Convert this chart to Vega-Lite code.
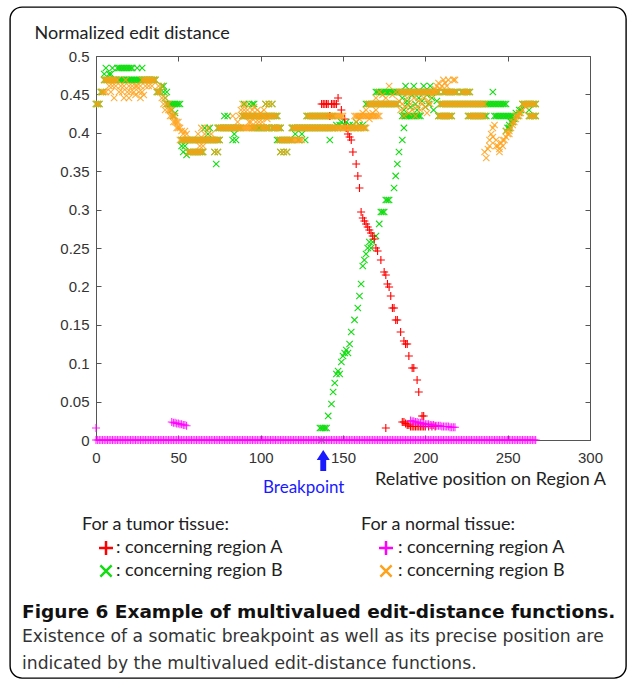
{
"$schema":"https://vega.github.io/schema/vega-lite/v6.json",
"width":616,"height":671,
"autosize":"none",
"padding":{"left":10,"top":7,"right":1,"bottom":3},
"background":"white",
"config":{"view":{"stroke":"#000","strokeWidth":1.4,"cornerRadius":12,"fill":"white"}},
"title":{"text":"Figure 6 Example of multivalued edit-distance functions.","subtitle":["Existence of a somatic breakpoint as well as its precise position are","indicated by the multivalued edit-distance functions."],"orient":"bottom","anchor":"start","frame":"group","offset":-75,"dx":12,"font":"DejaVu Sans","fontSize":18.5,"fontWeight":"bold","color":"#111","subtitleFont":"DejaVu Sans","subtitleFontSize":17.2,"subtitleColor":"#333","subtitleLineHeight":27,"subtitlePadding":6},
"datasets":{
"t":[
{"x":0,"y":0.4375,"s":"b"},{"x":1,"y":0.4375,"s":"b"},{"x":2,"y":0.4375,"s":"b"},{"x":3,"y":0.4531,"s":"b"},{"x":4,"y":0.4531,"s":"b"},{"x":5,"y":0.4688,"s":"b"},{"x":6,"y":0.4688,"s":"b"},{"x":7,"y":0.4688,"s":"b"},{"x":8,"y":0.4688,"s":"b"},{"x":9,"y":0.4688,"s":"b"},{"x":10,"y":0.4688,"s":"b"},{"x":11,"y":0.4688,"s":"b"},{"x":12,"y":0.4688,"s":"b"},
{"x":13,"y":0.4844,"s":"b"},{"x":14,"y":0.4844,"s":"b"},{"x":15,"y":0.4844,"s":"b"},{"x":16,"y":0.4844,"s":"b"},{"x":17,"y":0.4844,"s":"b"},{"x":18,"y":0.4844,"s":"b"},{"x":19,"y":0.4844,"s":"b"},{"x":20,"y":0.4844,"s":"b"},{"x":21,"y":0.4844,"s":"b"},{"x":22,"y":0.4844,"s":"b"},
{"x":23,"y":0.4688,"s":"b"},{"x":24,"y":0.4688,"s":"b"},{"x":25,"y":0.4688,"s":"b"},{"x":26,"y":0.4688,"s":"b"},{"x":27,"y":0.4688,"s":"b"},{"x":28,"y":0.4688,"s":"b"},{"x":29,"y":0.4688,"s":"b"},{"x":30,"y":0.4688,"s":"b"},{"x":31,"y":0.4688,"s":"b"},{"x":32,"y":0.4688,"s":"b"},{"x":33,"y":0.4688,"s":"b"},{"x":34,"y":0.4688,"s":"b"},{"x":35,"y":0.4688,"s":"b"},{"x":36,"y":0.4688,"s":"b"},
{"x":37,"y":0.4531,"s":"b"},{"x":38,"y":0.4531,"s":"b"},{"x":39,"y":0.4531,"s":"b"},{"x":40,"y":0.4609,"s":"b"},{"x":41,"y":0.4531,"s":"b"},{"x":42,"y":0.4453,"s":"b"},
{"x":43,"y":0.4375,"s":"b"},{"x":44,"y":0.4375,"s":"b"},{"x":45,"y":0.4375,"s":"b"},{"x":46,"y":0.4375,"s":"b"},{"x":47,"y":0.4375,"s":"b"},{"x":48,"y":0.4375,"s":"b"},{"x":49,"y":0.4375,"s":"b"},{"x":50,"y":0.4375,"s":"b"},{"x":51,"y":0.4375,"s":"b"},
{"x":52,"y":0.3906,"s":"b"},{"x":53,"y":0.3906,"s":"b"},{"x":54,"y":0.3906,"s":"b"},{"x":55,"y":0.3906,"s":"b"},{"x":56,"y":0.3906,"s":"b"},{"x":57,"y":0.3906,"s":"b"},{"x":58,"y":0.3906,"s":"b"},{"x":59,"y":0.3906,"s":"b"},{"x":60,"y":0.3906,"s":"b"},{"x":61,"y":0.3906,"s":"b"},{"x":62,"y":0.3906,"s":"b"},{"x":63,"y":0.3906,"s":"b"},{"x":64,"y":0.3906,"s":"b"},{"x":65,"y":0.3906,"s":"b"},{"x":66,"y":0.3906,"s":"b"},{"x":67,"y":0.3906,"s":"b"},{"x":68,"y":0.3906,"s":"b"},{"x":69,"y":0.3906,"s":"b"},{"x":70,"y":0.3906,"s":"b"},{"x":71,"y":0.3906,"s":"b"},{"x":72,"y":0.3906,"s":"b"},{"x":73,"y":0.3906,"s":"b"},
{"x":74,"y":0.4063,"s":"b"},{"x":75,"y":0.4063,"s":"b"},{"x":76,"y":0.4063,"s":"b"},{"x":77,"y":0.4063,"s":"b"},{"x":78,"y":0.4063,"s":"b"},{"x":79,"y":0.4063,"s":"b"},{"x":80,"y":0.4063,"s":"b"},{"x":81,"y":0.4063,"s":"b"},{"x":82,"y":0.4063,"s":"b"},{"x":83,"y":0.4063,"s":"b"},{"x":84,"y":0.4063,"s":"b"},{"x":85,"y":0.4063,"s":"b"},{"x":86,"y":0.4063,"s":"b"},{"x":87,"y":0.4063,"s":"b"},{"x":88,"y":0.4063,"s":"b"},
{"x":89,"y":0.4219,"s":"b"},{"x":90,"y":0.4219,"s":"b"},{"x":91,"y":0.4219,"s":"b"},{"x":92,"y":0.4219,"s":"b"},{"x":93,"y":0.4219,"s":"b"},{"x":94,"y":0.4219,"s":"b"},{"x":95,"y":0.4219,"s":"b"},{"x":96,"y":0.4219,"s":"b"},{"x":97,"y":0.4219,"s":"b"},{"x":98,"y":0.4219,"s":"b"},{"x":99,"y":0.4219,"s":"b"},{"x":100,"y":0.4219,"s":"b"},{"x":101,"y":0.4219,"s":"b"},{"x":102,"y":0.4219,"s":"b"},{"x":103,"y":0.4219,"s":"b"},{"x":104,"y":0.4219,"s":"b"},{"x":105,"y":0.4219,"s":"b"},{"x":106,"y":0.4219,"s":"b"},{"x":107,"y":0.4219,"s":"b"},{"x":108,"y":0.4219,"s":"b"},{"x":109,"y":0.4219,"s":"b"},{"x":110,"y":0.4219,"s":"b"},
{"x":111,"y":0.3906,"s":"b"},{"x":112,"y":0.3906,"s":"b"},{"x":113,"y":0.3906,"s":"b"},{"x":114,"y":0.3906,"s":"b"},{"x":115,"y":0.3906,"s":"b"},{"x":116,"y":0.3906,"s":"b"},{"x":117,"y":0.3906,"s":"b"},{"x":118,"y":0.3906,"s":"b"},
{"x":119,"y":0.4063,"s":"b"},{"x":120,"y":0.4063,"s":"b"},{"x":121,"y":0.4063,"s":"b"},{"x":122,"y":0.4063,"s":"b"},{"x":123,"y":0.4063,"s":"b"},{"x":124,"y":0.4063,"s":"b"},{"x":125,"y":0.4063,"s":"b"},{"x":126,"y":0.4063,"s":"b"},{"x":127,"y":0.4063,"s":"b"},{"x":128,"y":0.4063,"s":"b"},{"x":129,"y":0.4063,"s":"b"},{"x":130,"y":0.4063,"s":"b"},{"x":131,"y":0.4063,"s":"b"},{"x":132,"y":0.4063,"s":"b"},{"x":133,"y":0.4063,"s":"b"},{"x":134,"y":0.4063,"s":"b"},{"x":135,"y":0.4063,"s":"b"},{"x":136,"y":0.4063,"s":"b"},
{"x":137,"y":0.4219,"s":"b"},{"x":138,"y":0.4219,"s":"b"},{"x":139,"y":0.4219,"s":"b"},{"x":140,"y":0.4219,"s":"b"},{"x":141,"y":0.4219,"s":"b"},{"x":142,"y":0.4219,"s":"b"},{"x":143,"y":0.4219,"s":"b"},{"x":144,"y":0.4219,"s":"b"},
{"x":145,"y":0.4063,"s":"b"},{"x":146,"y":0.4102,"s":"b"},{"x":147,"y":0.4063,"s":"b"},{"x":148,"y":0.4102,"s":"b"},{"x":149,"y":0.4141,"s":"b"},{"x":150,"y":0.4063,"s":"b"},{"x":151,"y":0.4102,"s":"b"},{"x":152,"y":0.4141,"s":"b"},{"x":153,"y":0.4063,"s":"b"},{"x":154,"y":0.4102,"s":"b"},{"x":155,"y":0.4063,"s":"b"},{"x":156,"y":0.4102,"s":"b"},{"x":157,"y":0.4063,"s":"b"},{"x":158,"y":0.4141,"s":"b"},{"x":159,"y":0.4063,"s":"b"},{"x":160,"y":0.4102,"s":"b"},{"x":161,"y":0.4063,"s":"b"},{"x":162,"y":0.4102,"s":"b"},{"x":163,"y":0.4063,"s":"b"},
{"x":164,"y":0.4375,"s":"b"},{"x":165,"y":0.4375,"s":"b"},{"x":166,"y":0.4375,"s":"b"},{"x":167,"y":0.4375,"s":"b"},{"x":168,"y":0.4375,"s":"b"},{"x":169,"y":0.4375,"s":"b"},{"x":170,"y":0.4375,"s":"b"},{"x":171,"y":0.4375,"s":"b"},{"x":172,"y":0.4375,"s":"b"},{"x":173,"y":0.4375,"s":"b"},{"x":174,"y":0.4375,"s":"b"},{"x":175,"y":0.4375,"s":"b"},{"x":176,"y":0.4375,"s":"b"},{"x":177,"y":0.4375,"s":"b"},{"x":178,"y":0.4375,"s":"b"},{"x":179,"y":0.4375,"s":"b"},{"x":180,"y":0.4375,"s":"b"},{"x":181,"y":0.4375,"s":"b"},{"x":182,"y":0.4375,"s":"b"},{"x":183,"y":0.4375,"s":"b"},
{"x":184,"y":0.4531,"s":"b"},{"x":185,"y":0.4531,"s":"b"},{"x":186,"y":0.4531,"s":"b"},{"x":187,"y":0.4531,"s":"b"},{"x":188,"y":0.4531,"s":"b"},{"x":189,"y":0.4531,"s":"b"},{"x":190,"y":0.4531,"s":"b"},{"x":191,"y":0.4531,"s":"b"},{"x":192,"y":0.4531,"s":"b"},{"x":193,"y":0.4531,"s":"b"},{"x":194,"y":0.4531,"s":"b"},{"x":195,"y":0.4531,"s":"b"},{"x":196,"y":0.4531,"s":"b"},{"x":197,"y":0.4531,"s":"b"},{"x":198,"y":0.4531,"s":"b"},{"x":199,"y":0.4531,"s":"b"},{"x":200,"y":0.4531,"s":"b"},{"x":201,"y":0.4531,"s":"b"},{"x":202,"y":0.4531,"s":"b"},{"x":203,"y":0.4531,"s":"b"},{"x":204,"y":0.4531,"s":"b"},{"x":205,"y":0.4531,"s":"b"},{"x":206,"y":0.4531,"s":"b"},{"x":207,"y":0.4531,"s":"b"},{"x":208,"y":0.4531,"s":"b"},
{"x":209,"y":0.4375,"s":"b"},{"x":210,"y":0.4375,"s":"b"},{"x":211,"y":0.4375,"s":"b"},{"x":212,"y":0.4375,"s":"b"},{"x":213,"y":0.4375,"s":"b"},{"x":214,"y":0.4375,"s":"b"},{"x":215,"y":0.4375,"s":"b"},{"x":216,"y":0.4375,"s":"b"},{"x":217,"y":0.4375,"s":"b"},{"x":218,"y":0.4375,"s":"b"},{"x":219,"y":0.4375,"s":"b"},{"x":220,"y":0.4375,"s":"b"},{"x":221,"y":0.4375,"s":"b"},{"x":222,"y":0.4375,"s":"b"},{"x":223,"y":0.4375,"s":"b"},{"x":224,"y":0.4375,"s":"b"},{"x":225,"y":0.4375,"s":"b"},{"x":226,"y":0.4375,"s":"b"},{"x":227,"y":0.4375,"s":"b"},{"x":228,"y":0.4375,"s":"b"},{"x":229,"y":0.4375,"s":"b"},{"x":230,"y":0.4375,"s":"b"},{"x":231,"y":0.4375,"s":"b"},{"x":232,"y":0.4375,"s":"b"},{"x":233,"y":0.4375,"s":"b"},{"x":234,"y":0.4375,"s":"b"},{"x":235,"y":0.4375,"s":"b"},{"x":236,"y":0.4375,"s":"b"},{"x":237,"y":0.4375,"s":"b"},{"x":238,"y":0.4375,"s":"b"},{"x":239,"y":0.4375,"s":"b"},{"x":240,"y":0.4375,"s":"b"},{"x":241,"y":0.4375,"s":"b"},{"x":242,"y":0.4375,"s":"b"},{"x":243,"y":0.4375,"s":"b"},{"x":244,"y":0.4375,"s":"b"},{"x":245,"y":0.4375,"s":"b"},{"x":246,"y":0.4375,"s":"b"},{"x":247,"y":0.4375,"s":"b"},{"x":248,"y":0.4375,"s":"b"},{"x":249,"y":0.4375,"s":"b"},
{"x":250,"y":0.4063,"s":"b"},{"x":251,"y":0.4102,"s":"b"},{"x":252,"y":0.4141,"s":"b"},{"x":253,"y":0.4141,"s":"b"},{"x":254,"y":0.418,"s":"b"},{"x":255,"y":0.4219,"s":"b"},{"x":256,"y":0.4219,"s":"b"},{"x":257,"y":0.4258,"s":"b"},{"x":258,"y":0.4297,"s":"b"},
{"x":259,"y":0.4375,"s":"b"},{"x":260,"y":0.4375,"s":"b"},{"x":261,"y":0.4375,"s":"b"},{"x":262,"y":0.4375,"s":"b"},{"x":263,"y":0.4375,"s":"b"},{"x":264,"y":0.4375,"s":"b"},{"x":265,"y":0.4375,"s":"b"},{"x":266,"y":0.4375,"s":"b"},{"x":267,"y":0.4375,"s":"b"},
{"x":5,"y":0.4766,"s":"b"},{"x":6,"y":0.4844,"s":"b"},{"x":8,"y":0.4766,"s":"b"},{"x":9,"y":0.4766,"s":"b"},{"x":10,"y":0.4844,"s":"b"},
{"x":14,"y":0.4688,"s":"b"},{"x":15,"y":0.4688,"s":"b"},{"x":16,"y":0.4688,"s":"b"},{"x":17,"y":0.4688,"s":"b"},{"x":18,"y":0.4688,"s":"b"},{"x":19,"y":0.4688,"s":"b"},{"x":20,"y":0.4688,"s":"b"},{"x":21,"y":0.4688,"s":"b"},{"x":22,"y":0.4688,"s":"b"},
{"x":25,"y":0.4844,"s":"b"},{"x":28,"y":0.4844,"s":"b"},
{"x":41,"y":0.4609,"s":"b"},{"x":43,"y":0.4531,"s":"b"},{"x":46,"y":0.4297,"s":"b"},{"x":47,"y":0.4219,"s":"b"},{"x":48,"y":0.4258,"s":"b"},
{"x":52,"y":0.3828,"s":"b"},{"x":53,"y":0.375,"s":"b"},{"x":54,"y":0.3828,"s":"b"},{"x":55,"y":0.3711,"s":"b"},
{"x":56,"y":0.375,"s":"b"},{"x":57,"y":0.375,"s":"b"},{"x":58,"y":0.375,"s":"b"},{"x":59,"y":0.375,"s":"b"},{"x":60,"y":0.375,"s":"b"},{"x":61,"y":0.375,"s":"b"},{"x":62,"y":0.375,"s":"b"},{"x":63,"y":0.375,"s":"b"},{"x":64,"y":0.375,"s":"b"},{"x":65,"y":0.375,"s":"b"},
{"x":66,"y":0.4063,"s":"b"},{"x":68,"y":0.3984,"s":"b"},{"x":69,"y":0.4063,"s":"b"},
{"x":72,"y":0.375,"s":"b"},{"x":73,"y":0.3594,"s":"b"},{"x":74,"y":0.375,"s":"b"},{"x":74,"y":0.3906,"s":"b"},{"x":75,"y":0.3906,"s":"b"},
{"x":78,"y":0.4219,"s":"b"},{"x":80,"y":0.4219,"s":"b"},{"x":83,"y":0.3906,"s":"b"},{"x":84,"y":0.3984,"s":"b"},{"x":85,"y":0.3906,"s":"b"},
{"x":90,"y":0.4375,"s":"b"},{"x":93,"y":0.4375,"s":"b"},{"x":95,"y":0.4375,"s":"b"},{"x":96,"y":0.4375,"s":"b"},
{"x":95,"y":0.4063,"s":"b"},{"x":96,"y":0.4063,"s":"b"},{"x":97,"y":0.4063,"s":"b"},{"x":98,"y":0.4063,"s":"b"},{"x":99,"y":0.4063,"s":"b"},{"x":100,"y":0.4063,"s":"b"},{"x":101,"y":0.4063,"s":"b"},{"x":102,"y":0.4063,"s":"b"},{"x":103,"y":0.4063,"s":"b"},{"x":104,"y":0.4063,"s":"b"},{"x":105,"y":0.4063,"s":"b"},
{"x":103,"y":0.4375,"s":"b"},{"x":105,"y":0.4375,"s":"b"},{"x":107,"y":0.4375,"s":"b"},
{"x":107,"y":0.4063,"s":"b"},{"x":108,"y":0.4063,"s":"b"},{"x":109,"y":0.4063,"s":"b"},{"x":110,"y":0.4063,"s":"b"},{"x":111,"y":0.4063,"s":"b"},{"x":112,"y":0.4063,"s":"b"},
{"x":110,"y":0.3906,"s":"b"},{"x":112,"y":0.375,"s":"b"},{"x":114,"y":0.375,"s":"b"},{"x":116,"y":0.375,"s":"b"},
{"x":119,"y":0.3906,"s":"b"},{"x":121,"y":0.3984,"s":"b"},{"x":123,"y":0.3906,"s":"b"},{"x":125,"y":0.3984,"s":"b"},{"x":127,"y":0.3906,"s":"b"},
{"x":128,"y":0.4219,"s":"b"},{"x":129,"y":0.4219,"s":"b"},{"x":130,"y":0.4219,"s":"b"},{"x":131,"y":0.4219,"s":"b"},{"x":132,"y":0.4219,"s":"b"},{"x":133,"y":0.4219,"s":"b"},{"x":134,"y":0.4219,"s":"b"},{"x":135,"y":0.4219,"s":"b"},{"x":136,"y":0.4219,"s":"b"},
{"x":137,"y":0.4063,"s":"b"},{"x":138,"y":0.4063,"s":"b"},{"x":139,"y":0.4063,"s":"b"},{"x":140,"y":0.4063,"s":"b"},{"x":141,"y":0.4063,"s":"b"},{"x":142,"y":0.4063,"s":"b"},{"x":143,"y":0.4063,"s":"b"},{"x":144,"y":0.4063,"s":"b"},
{"x":142,"y":0.3906,"s":"b"},
{"x":170,"y":0.4531,"s":"b"},{"x":171,"y":0.4531,"s":"b"},{"x":172,"y":0.4531,"s":"b"},{"x":173,"y":0.4531,"s":"b"},{"x":174,"y":0.4531,"s":"b"},{"x":175,"y":0.4531,"s":"b"},{"x":176,"y":0.4531,"s":"b"},{"x":177,"y":0.4531,"s":"b"},{"x":178,"y":0.4531,"s":"b"},{"x":179,"y":0.4531,"s":"b"},{"x":180,"y":0.4531,"s":"b"},{"x":181,"y":0.4531,"s":"b"},{"x":182,"y":0.4531,"s":"b"},{"x":183,"y":0.4531,"s":"b"},
{"x":186,"y":0.4219,"s":"b"},{"x":187,"y":0.4219,"s":"b"},{"x":188,"y":0.4219,"s":"b"},{"x":189,"y":0.4219,"s":"b"},{"x":190,"y":0.4219,"s":"b"},{"x":191,"y":0.4219,"s":"b"},{"x":192,"y":0.4219,"s":"b"},{"x":193,"y":0.4219,"s":"b"},{"x":194,"y":0.4219,"s":"b"},{"x":195,"y":0.4219,"s":"b"},{"x":196,"y":0.4219,"s":"b"},{"x":197,"y":0.4219,"s":"b"},
{"x":186,"y":0.4453,"s":"b"},{"x":187,"y":0.4297,"s":"b"},{"x":188,"y":0.4609,"s":"b"},{"x":189,"y":0.4414,"s":"b"},{"x":190,"y":0.4531,"s":"b"},{"x":191,"y":0.4336,"s":"b"},{"x":192,"y":0.4492,"s":"b"},{"x":193,"y":0.4609,"s":"b"},{"x":194,"y":0.4375,"s":"b"},{"x":195,"y":0.4297,"s":"b"},{"x":196,"y":0.4453,"s":"b"},{"x":197,"y":0.4531,"s":"b"},{"x":198,"y":0.4414,"s":"b"},{"x":199,"y":0.4609,"s":"b"},{"x":200,"y":0.4336,"s":"b"},{"x":201,"y":0.4492,"s":"b"},{"x":202,"y":0.4375,"s":"b"},{"x":203,"y":0.4609,"s":"b"},{"x":204,"y":0.4453,"s":"b"},{"x":205,"y":0.4297,"s":"b"},{"x":206,"y":0.4531,"s":"b"},{"x":207,"y":0.4414,"s":"b"},
{"x":208,"y":0.4219,"s":"b"},{"x":209,"y":0.4219,"s":"b"},{"x":210,"y":0.4219,"s":"b"},{"x":211,"y":0.4219,"s":"b"},{"x":212,"y":0.4219,"s":"b"},{"x":213,"y":0.4219,"s":"b"},{"x":214,"y":0.4219,"s":"b"},{"x":215,"y":0.4219,"s":"b"},{"x":216,"y":0.4219,"s":"b"},
{"x":226,"y":0.4219,"s":"b"},{"x":227,"y":0.4219,"s":"b"},{"x":228,"y":0.4219,"s":"b"},{"x":229,"y":0.4219,"s":"b"},{"x":230,"y":0.4219,"s":"b"},{"x":231,"y":0.4219,"s":"b"},{"x":232,"y":0.4219,"s":"b"},{"x":233,"y":0.4219,"s":"b"},{"x":234,"y":0.4219,"s":"b"},{"x":235,"y":0.4219,"s":"b"},{"x":236,"y":0.4219,"s":"b"},{"x":237,"y":0.4219,"s":"b"},
{"x":211,"y":0.4531,"s":"b"},{"x":212,"y":0.4531,"s":"b"},{"x":213,"y":0.4531,"s":"b"},{"x":214,"y":0.4531,"s":"b"},{"x":215,"y":0.4531,"s":"b"},{"x":216,"y":0.4531,"s":"b"},{"x":217,"y":0.4531,"s":"b"},{"x":218,"y":0.4531,"s":"b"},{"x":219,"y":0.4531,"s":"b"},
{"x":222,"y":0.4531,"s":"b"},{"x":223,"y":0.4531,"s":"b"},{"x":224,"y":0.4531,"s":"b"},{"x":225,"y":0.4531,"s":"b"},{"x":226,"y":0.4531,"s":"b"},{"x":227,"y":0.4531,"s":"b"},
{"x":241,"y":0.4531,"s":"b"},
{"x":242,"y":0.4219,"s":"b"},{"x":243,"y":0.4219,"s":"b"},{"x":244,"y":0.4219,"s":"b"},{"x":245,"y":0.4219,"s":"b"},{"x":246,"y":0.4219,"s":"b"},{"x":247,"y":0.4219,"s":"b"},{"x":248,"y":0.4219,"s":"b"},{"x":249,"y":0.4219,"s":"b"},{"x":250,"y":0.4219,"s":"b"},{"x":251,"y":0.4219,"s":"b"},{"x":252,"y":0.4219,"s":"b"},{"x":253,"y":0.4219,"s":"b"},
{"x":249,"y":0.4023,"s":"b"},{"x":251,"y":0.4063,"s":"b"},{"x":253,"y":0.418,"s":"b"},{"x":255,"y":0.4258,"s":"b"},{"x":257,"y":0.4297,"s":"b"},{"x":263,"y":0.4297,"s":"b"},
{"x":263,"y":0.4219,"s":"b"},{"x":264,"y":0.4219,"s":"b"},{"x":265,"y":0.4219,"s":"b"},{"x":266,"y":0.4219,"s":"b"},{"x":267,"y":0.4219,"s":"b"},
{"x":137,"y":0,"s":"b"},{"x":136,"y":0.0156,"s":"b"},{"x":137,"y":0.0156,"s":"b"},{"x":138,"y":0.0156,"s":"b"},{"x":139,"y":0.0156,"s":"b"},{"x":140,"y":0.0156,"s":"b"},{"x":141,"y":0.0313,"s":"b"},{"x":143,"y":0.0469,"s":"b"},{"x":144,"y":0.0625,"s":"b"},{"x":145,"y":0.0742,"s":"b"},{"x":146,"y":0.0859,"s":"b"},{"x":147,"y":0.0898,"s":"b"},{"x":148,"y":0.0859,"s":"b"},{"x":149,"y":0.1016,"s":"b"},{"x":150,"y":0.1094,"s":"b"},{"x":151,"y":0.1133,"s":"b"},{"x":152,"y":0.1172,"s":"b"},{"x":153,"y":0.1133,"s":"b"},{"x":154,"y":0.125,"s":"b"},{"x":155,"y":0.1406,"s":"b"},{"x":157,"y":0.1563,"s":"b"},{"x":159,"y":0.1719,"s":"b"},{"x":160,"y":0.1875,"s":"b"},{"x":161,"y":0.2031,"s":"b"},{"x":162,"y":0.2266,"s":"b"},{"x":163,"y":0.2344,"s":"b"},{"x":164,"y":0.2422,"s":"b"},{"x":165,"y":0.25,"s":"b"},{"x":166,"y":0.2578,"s":"b"},{"x":167,"y":0.25,"s":"b"},{"x":168,"y":0.2578,"s":"b"},{"x":170,"y":0.2656,"s":"b"},{"x":172,"y":0.2813,"s":"b"},{"x":173,"y":0.2969,"s":"b"},{"x":174,"y":0.2969,"s":"b"},{"x":175,"y":0.2969,"s":"b"},{"x":176,"y":0.3125,"s":"b"},{"x":177,"y":0.3125,"s":"b"},{"x":178,"y":0.3125,"s":"b"},{"x":181,"y":0.3281,"s":"b"},{"x":182,"y":0.3438,"s":"b"},{"x":183,"y":0.3594,"s":"b"},{"x":184,"y":0.375,"s":"b"},{"x":186,"y":0.3906,"s":"b"},{"x":187,"y":0.4063,"s":"b"},{"x":188,"y":0.4219,"s":"b"},{"x":189,"y":0.4375,"s":"b"},
{"x":137,"y":0.4375,"s":"a"},{"x":138,"y":0.4375,"s":"a"},{"x":139,"y":0.4375,"s":"a"},{"x":140,"y":0.4375,"s":"a"},{"x":141,"y":0.4375,"s":"a"},{"x":143,"y":0.4375,"s":"a"},{"x":144,"y":0.4375,"s":"a"},{"x":145,"y":0.4375,"s":"a"},{"x":146,"y":0.4375,"s":"a"},{"x":147,"y":0.4453,"s":"a"},{"x":142,"y":0.4219,"s":"a"},{"x":149,"y":0.4297,"s":"a"},{"x":151,"y":0.418,"s":"a"},{"x":152,"y":0.4063,"s":"a"},{"x":153,"y":0.3984,"s":"a"},{"x":154,"y":0.3945,"s":"a"},{"x":155,"y":0.3906,"s":"a"},{"x":156,"y":0.375,"s":"a"},{"x":158,"y":0.3594,"s":"a"},{"x":159,"y":0.3438,"s":"a"},{"x":160,"y":0.3281,"s":"a"},{"x":161,"y":0.2969,"s":"a"},{"x":162,"y":0.2891,"s":"a"},{"x":163,"y":0.2852,"s":"a"},{"x":164,"y":0.2813,"s":"a"},{"x":165,"y":0.2773,"s":"a"},{"x":166,"y":0.2734,"s":"a"},{"x":167,"y":0.2695,"s":"a"},{"x":168,"y":0.2656,"s":"a"},{"x":169,"y":0.2617,"s":"a"},{"x":170,"y":0.25,"s":"a"},{"x":171,"y":0.2461,"s":"a"},{"x":173,"y":0.2344,"s":"a"},{"x":175,"y":0.2188,"s":"a"},{"x":176,"y":0.2148,"s":"a"},{"x":177,"y":0.2031,"s":"a"},{"x":178,"y":0.1992,"s":"a"},{"x":179,"y":0.1875,"s":"a"},{"x":180,"y":0.1719,"s":"a"},{"x":181,"y":0.1719,"s":"a"},{"x":182,"y":0.1563,"s":"a"},{"x":183,"y":0.1563,"s":"a"},{"x":185,"y":0.1406,"s":"a"},{"x":187,"y":0.1289,"s":"a"},{"x":188,"y":0.125,"s":"a"},{"x":189,"y":0.125,"s":"a"},{"x":190,"y":0.1094,"s":"a"},{"x":192,"y":0.0938,"s":"a"},{"x":193,"y":0.0938,"s":"a"},{"x":195,"y":0.0781,"s":"a"},{"x":196,"y":0.0625,"s":"a"},{"x":198,"y":0.0313,"s":"a"},{"x":199,"y":0.0313,"s":"a"},{"x":176,"y":0.0156,"s":"a"},{"x":186,"y":0.0234,"s":"a"},{"x":187,"y":0.0234,"s":"a"},{"x":188,"y":0.0215,"s":"a"},{"x":189,"y":0.0195,"s":"a"},{"x":190,"y":0.0195,"s":"a"},{"x":191,"y":0.0176,"s":"a"},{"x":192,"y":0.0176,"s":"a"},{"x":193,"y":0.0176,"s":"a"},{"x":194,"y":0.0176,"s":"a"},{"x":195,"y":0.0176,"s":"a"},{"x":196,"y":0.0176,"s":"a"},{"x":197,"y":0.0176,"s":"a"},{"x":198,"y":0.0176,"s":"a"},{"x":199,"y":0.0176,"s":"a"},{"x":200,"y":0.0176,"s":"a"},{"x":202,"y":0.0176,"s":"a"},{"x":204,"y":0.0176,"s":"a"},{"x":206,"y":0.0176,"s":"a"}
],
"n":[
{"x":0,"y":0,"s":"c"},{"x":1,"y":0,"s":"c"},{"x":2,"y":0,"s":"c"},{"x":3,"y":0,"s":"c"},{"x":4,"y":0,"s":"c"},{"x":5,"y":0,"s":"c"},{"x":6,"y":0,"s":"c"},{"x":7,"y":0,"s":"c"},{"x":8,"y":0,"s":"c"},{"x":9,"y":0,"s":"c"},{"x":10,"y":0,"s":"c"},{"x":11,"y":0,"s":"c"},{"x":12,"y":0,"s":"c"},{"x":13,"y":0,"s":"c"},{"x":14,"y":0,"s":"c"},{"x":15,"y":0,"s":"c"},{"x":16,"y":0,"s":"c"},{"x":17,"y":0,"s":"c"},{"x":18,"y":0,"s":"c"},{"x":19,"y":0,"s":"c"},{"x":20,"y":0,"s":"c"},{"x":21,"y":0,"s":"c"},{"x":22,"y":0,"s":"c"},{"x":23,"y":0,"s":"c"},{"x":24,"y":0,"s":"c"},{"x":25,"y":0,"s":"c"},{"x":26,"y":0,"s":"c"},{"x":27,"y":0,"s":"c"},{"x":28,"y":0,"s":"c"},{"x":29,"y":0,"s":"c"},{"x":30,"y":0,"s":"c"},{"x":31,"y":0,"s":"c"},{"x":32,"y":0,"s":"c"},{"x":33,"y":0,"s":"c"},{"x":34,"y":0,"s":"c"},{"x":35,"y":0,"s":"c"},{"x":36,"y":0,"s":"c"},{"x":37,"y":0,"s":"c"},{"x":38,"y":0,"s":"c"},{"x":39,"y":0,"s":"c"},{"x":40,"y":0,"s":"c"},{"x":41,"y":0,"s":"c"},{"x":42,"y":0,"s":"c"},{"x":43,"y":0,"s":"c"},{"x":44,"y":0,"s":"c"},{"x":45,"y":0,"s":"c"},{"x":46,"y":0,"s":"c"},{"x":47,"y":0,"s":"c"},{"x":48,"y":0,"s":"c"},{"x":49,"y":0,"s":"c"},{"x":50,"y":0,"s":"c"},{"x":51,"y":0,"s":"c"},{"x":52,"y":0,"s":"c"},{"x":53,"y":0,"s":"c"},{"x":54,"y":0,"s":"c"},{"x":55,"y":0,"s":"c"},{"x":56,"y":0,"s":"c"},{"x":57,"y":0,"s":"c"},{"x":58,"y":0,"s":"c"},{"x":59,"y":0,"s":"c"},{"x":60,"y":0,"s":"c"},{"x":61,"y":0,"s":"c"},{"x":62,"y":0,"s":"c"},{"x":63,"y":0,"s":"c"},{"x":64,"y":0,"s":"c"},{"x":65,"y":0,"s":"c"},{"x":66,"y":0,"s":"c"},{"x":67,"y":0,"s":"c"},{"x":68,"y":0,"s":"c"},{"x":69,"y":0,"s":"c"},{"x":70,"y":0,"s":"c"},{"x":71,"y":0,"s":"c"},{"x":72,"y":0,"s":"c"},{"x":73,"y":0,"s":"c"},{"x":74,"y":0,"s":"c"},{"x":75,"y":0,"s":"c"},{"x":76,"y":0,"s":"c"},{"x":77,"y":0,"s":"c"},{"x":78,"y":0,"s":"c"},{"x":79,"y":0,"s":"c"},{"x":80,"y":0,"s":"c"},{"x":81,"y":0,"s":"c"},{"x":82,"y":0,"s":"c"},{"x":83,"y":0,"s":"c"},{"x":84,"y":0,"s":"c"},{"x":85,"y":0,"s":"c"},{"x":86,"y":0,"s":"c"},{"x":87,"y":0,"s":"c"},{"x":88,"y":0,"s":"c"},{"x":89,"y":0,"s":"c"},{"x":90,"y":0,"s":"c"},{"x":91,"y":0,"s":"c"},{"x":92,"y":0,"s":"c"},{"x":93,"y":0,"s":"c"},{"x":94,"y":0,"s":"c"},{"x":95,"y":0,"s":"c"},{"x":96,"y":0,"s":"c"},{"x":97,"y":0,"s":"c"},{"x":98,"y":0,"s":"c"},{"x":99,"y":0,"s":"c"},{"x":100,"y":0,"s":"c"},{"x":101,"y":0,"s":"c"},{"x":102,"y":0,"s":"c"},{"x":103,"y":0,"s":"c"},{"x":104,"y":0,"s":"c"},{"x":105,"y":0,"s":"c"},{"x":106,"y":0,"s":"c"},{"x":107,"y":0,"s":"c"},{"x":108,"y":0,"s":"c"},{"x":109,"y":0,"s":"c"},{"x":110,"y":0,"s":"c"},{"x":111,"y":0,"s":"c"},{"x":112,"y":0,"s":"c"},{"x":113,"y":0,"s":"c"},{"x":114,"y":0,"s":"c"},{"x":115,"y":0,"s":"c"},{"x":116,"y":0,"s":"c"},{"x":117,"y":0,"s":"c"},{"x":118,"y":0,"s":"c"},{"x":119,"y":0,"s":"c"},{"x":120,"y":0,"s":"c"},{"x":121,"y":0,"s":"c"},{"x":122,"y":0,"s":"c"},{"x":123,"y":0,"s":"c"},{"x":124,"y":0,"s":"c"},{"x":125,"y":0,"s":"c"},{"x":126,"y":0,"s":"c"},{"x":127,"y":0,"s":"c"},{"x":128,"y":0,"s":"c"},{"x":129,"y":0,"s":"c"},{"x":130,"y":0,"s":"c"},{"x":131,"y":0,"s":"c"},{"x":132,"y":0,"s":"c"},{"x":133,"y":0,"s":"c"},{"x":134,"y":0,"s":"c"},{"x":135,"y":0,"s":"c"},{"x":136,"y":0,"s":"c"},{"x":137,"y":0,"s":"c"},{"x":138,"y":0,"s":"c"},{"x":139,"y":0,"s":"c"},{"x":140,"y":0,"s":"c"},{"x":141,"y":0,"s":"c"},{"x":142,"y":0,"s":"c"},{"x":143,"y":0,"s":"c"},{"x":144,"y":0,"s":"c"},{"x":145,"y":0,"s":"c"},{"x":146,"y":0,"s":"c"},{"x":147,"y":0,"s":"c"},{"x":148,"y":0,"s":"c"},{"x":149,"y":0,"s":"c"},{"x":150,"y":0,"s":"c"},{"x":151,"y":0,"s":"c"},{"x":152,"y":0,"s":"c"},{"x":153,"y":0,"s":"c"},{"x":154,"y":0,"s":"c"},{"x":155,"y":0,"s":"c"},{"x":156,"y":0,"s":"c"},{"x":157,"y":0,"s":"c"},{"x":158,"y":0,"s":"c"},{"x":159,"y":0,"s":"c"},{"x":160,"y":0,"s":"c"},{"x":161,"y":0,"s":"c"},{"x":162,"y":0,"s":"c"},{"x":163,"y":0,"s":"c"},{"x":164,"y":0,"s":"c"},{"x":165,"y":0,"s":"c"},{"x":166,"y":0,"s":"c"},{"x":167,"y":0,"s":"c"},{"x":168,"y":0,"s":"c"},{"x":169,"y":0,"s":"c"},{"x":170,"y":0,"s":"c"},{"x":171,"y":0,"s":"c"},{"x":172,"y":0,"s":"c"},{"x":173,"y":0,"s":"c"},{"x":174,"y":0,"s":"c"},{"x":175,"y":0,"s":"c"},{"x":176,"y":0,"s":"c"},{"x":177,"y":0,"s":"c"},{"x":178,"y":0,"s":"c"},{"x":179,"y":0,"s":"c"},{"x":180,"y":0,"s":"c"},{"x":181,"y":0,"s":"c"},{"x":182,"y":0,"s":"c"},{"x":183,"y":0,"s":"c"},{"x":184,"y":0,"s":"c"},{"x":185,"y":0,"s":"c"},{"x":186,"y":0,"s":"c"},{"x":187,"y":0,"s":"c"},{"x":188,"y":0,"s":"c"},{"x":189,"y":0,"s":"c"},{"x":190,"y":0,"s":"c"},{"x":191,"y":0,"s":"c"},{"x":192,"y":0,"s":"c"},{"x":193,"y":0,"s":"c"},{"x":194,"y":0,"s":"c"},{"x":195,"y":0,"s":"c"},{"x":196,"y":0,"s":"c"},{"x":197,"y":0,"s":"c"},{"x":198,"y":0,"s":"c"},{"x":199,"y":0,"s":"c"},{"x":200,"y":0,"s":"c"},{"x":201,"y":0,"s":"c"},{"x":202,"y":0,"s":"c"},{"x":203,"y":0,"s":"c"},{"x":204,"y":0,"s":"c"},{"x":205,"y":0,"s":"c"},{"x":206,"y":0,"s":"c"},{"x":207,"y":0,"s":"c"},{"x":208,"y":0,"s":"c"},{"x":209,"y":0,"s":"c"},{"x":210,"y":0,"s":"c"},{"x":211,"y":0,"s":"c"},{"x":212,"y":0,"s":"c"},{"x":213,"y":0,"s":"c"},{"x":214,"y":0,"s":"c"},{"x":215,"y":0,"s":"c"},{"x":216,"y":0,"s":"c"},{"x":217,"y":0,"s":"c"},{"x":218,"y":0,"s":"c"},{"x":219,"y":0,"s":"c"},{"x":220,"y":0,"s":"c"},{"x":221,"y":0,"s":"c"},{"x":222,"y":0,"s":"c"},{"x":223,"y":0,"s":"c"},{"x":224,"y":0,"s":"c"},{"x":225,"y":0,"s":"c"},{"x":226,"y":0,"s":"c"},{"x":227,"y":0,"s":"c"},{"x":228,"y":0,"s":"c"},{"x":229,"y":0,"s":"c"},{"x":230,"y":0,"s":"c"},{"x":231,"y":0,"s":"c"},{"x":232,"y":0,"s":"c"},{"x":233,"y":0,"s":"c"},{"x":234,"y":0,"s":"c"},{"x":235,"y":0,"s":"c"},{"x":236,"y":0,"s":"c"},{"x":237,"y":0,"s":"c"},{"x":238,"y":0,"s":"c"},{"x":239,"y":0,"s":"c"},{"x":240,"y":0,"s":"c"},{"x":241,"y":0,"s":"c"},{"x":242,"y":0,"s":"c"},{"x":243,"y":0,"s":"c"},{"x":244,"y":0,"s":"c"},{"x":245,"y":0,"s":"c"},{"x":246,"y":0,"s":"c"},{"x":247,"y":0,"s":"c"},{"x":248,"y":0,"s":"c"},{"x":249,"y":0,"s":"c"},{"x":250,"y":0,"s":"c"},{"x":251,"y":0,"s":"c"},{"x":252,"y":0,"s":"c"},{"x":253,"y":0,"s":"c"},{"x":254,"y":0,"s":"c"},{"x":255,"y":0,"s":"c"},{"x":256,"y":0,"s":"c"},{"x":257,"y":0,"s":"c"},{"x":258,"y":0,"s":"c"},{"x":259,"y":0,"s":"c"},{"x":260,"y":0,"s":"c"},{"x":261,"y":0,"s":"c"},{"x":262,"y":0,"s":"c"},{"x":263,"y":0,"s":"c"},{"x":264,"y":0,"s":"c"},{"x":265,"y":0,"s":"c"},{"x":266,"y":0,"s":"c"},{"x":267,"y":0,"s":"c"},
{"x":0,"y":0.0156,"s":"c"},
{"x":46,"y":0.0234,"s":"c"},{"x":47,"y":0.0225,"s":"c"},{"x":48,"y":0.0225,"s":"c"},{"x":49,"y":0.0215,"s":"c"},{"x":50,"y":0.0215,"s":"c"},{"x":51,"y":0.0205,"s":"c"},{"x":52,"y":0.0205,"s":"c"},{"x":53,"y":0.0195,"s":"c"},{"x":54,"y":0.0195,"s":"c"},{"x":55,"y":0.0186,"s":"c"},
{"x":191,"y":0.0254,"s":"c"},{"x":192,"y":0.0244,"s":"c"},{"x":193,"y":0.0244,"s":"c"},{"x":194,"y":0.0234,"s":"c"},{"x":195,"y":0.0234,"s":"c"},{"x":196,"y":0.0225,"s":"c"},{"x":197,"y":0.0225,"s":"c"},{"x":198,"y":0.0215,"s":"c"},{"x":199,"y":0.0215,"s":"c"},{"x":200,"y":0.0205,"s":"c"},{"x":201,"y":0.0205,"s":"c"},{"x":202,"y":0.0205,"s":"c"},{"x":203,"y":0.0195,"s":"c"},{"x":204,"y":0.0195,"s":"c"},{"x":205,"y":0.0195,"s":"c"},{"x":206,"y":0.0186,"s":"c"},{"x":207,"y":0.0186,"s":"c"},{"x":208,"y":0.0186,"s":"c"},{"x":209,"y":0.0186,"s":"c"},{"x":210,"y":0.0176,"s":"c"},{"x":211,"y":0.0176,"s":"c"},{"x":212,"y":0.0176,"s":"c"},{"x":213,"y":0.0176,"s":"c"},{"x":214,"y":0.0176,"s":"c"},{"x":215,"y":0.0166,"s":"c"},{"x":216,"y":0.0166,"s":"c"},{"x":217,"y":0.0166,"s":"c"},{"x":218,"y":0.0166,"s":"c"},
{"x":0,"y":0.4375,"s":"d"},{"x":1,"y":0.4375,"s":"d"},{"x":2,"y":0.4375,"s":"d"},{"x":3,"y":0.4531,"s":"d"},{"x":4,"y":0.4531,"s":"d"},{"x":5,"y":0.4688,"s":"d"},{"x":6,"y":0.4688,"s":"d"},{"x":7,"y":0.4688,"s":"d"},{"x":8,"y":0.4688,"s":"d"},{"x":9,"y":0.4688,"s":"d"},{"x":10,"y":0.4688,"s":"d"},{"x":11,"y":0.4688,"s":"d"},{"x":12,"y":0.4688,"s":"d"},{"x":13,"y":0.4688,"s":"d"},
{"x":14,"y":0.4531,"s":"d"},{"x":15,"y":0.4609,"s":"d"},{"x":16,"y":0.4531,"s":"d"},{"x":17,"y":0.4609,"s":"d"},{"x":18,"y":0.4688,"s":"d"},{"x":19,"y":0.4531,"s":"d"},{"x":20,"y":0.4609,"s":"d"},{"x":21,"y":0.4531,"s":"d"},{"x":22,"y":0.4609,"s":"d"},{"x":23,"y":0.4531,"s":"d"},{"x":24,"y":0.4609,"s":"d"},{"x":25,"y":0.4609,"s":"d"},{"x":26,"y":0.4531,"s":"d"},{"x":27,"y":0.4609,"s":"d"},
{"x":28,"y":0.4688,"s":"d"},{"x":29,"y":0.4688,"s":"d"},{"x":30,"y":0.4688,"s":"d"},{"x":31,"y":0.4688,"s":"d"},{"x":32,"y":0.4688,"s":"d"},{"x":33,"y":0.4688,"s":"d"},{"x":34,"y":0.4688,"s":"d"},{"x":35,"y":0.4688,"s":"d"},{"x":36,"y":0.4688,"s":"d"},{"x":37,"y":0.4531,"s":"d"},{"x":38,"y":0.4531,"s":"d"},{"x":39,"y":0.4531,"s":"d"},
{"x":40,"y":0.4453,"s":"d"},{"x":41,"y":0.4375,"s":"d"},{"x":42,"y":0.4453,"s":"d"},{"x":43,"y":0.4375,"s":"d"},{"x":44,"y":0.4297,"s":"d"},{"x":45,"y":0.4297,"s":"d"},{"x":46,"y":0.4219,"s":"d"},{"x":47,"y":0.4219,"s":"d"},{"x":48,"y":0.4141,"s":"d"},{"x":49,"y":0.4141,"s":"d"},{"x":50,"y":0.4063,"s":"d"},
{"x":51,"y":0.3906,"s":"d"},{"x":52,"y":0.3906,"s":"d"},{"x":53,"y":0.3906,"s":"d"},{"x":54,"y":0.3906,"s":"d"},{"x":55,"y":0.3906,"s":"d"},{"x":56,"y":0.3906,"s":"d"},{"x":57,"y":0.3906,"s":"d"},{"x":58,"y":0.3906,"s":"d"},{"x":59,"y":0.3906,"s":"d"},{"x":60,"y":0.3906,"s":"d"},{"x":61,"y":0.3906,"s":"d"},{"x":62,"y":0.3906,"s":"d"},{"x":63,"y":0.3906,"s":"d"},{"x":64,"y":0.3906,"s":"d"},{"x":65,"y":0.3906,"s":"d"},{"x":66,"y":0.3906,"s":"d"},{"x":67,"y":0.3906,"s":"d"},{"x":68,"y":0.3906,"s":"d"},{"x":69,"y":0.3906,"s":"d"},{"x":70,"y":0.3906,"s":"d"},{"x":71,"y":0.3906,"s":"d"},{"x":72,"y":0.3906,"s":"d"},{"x":73,"y":0.3906,"s":"d"},
{"x":74,"y":0.4063,"s":"d"},{"x":75,"y":0.4063,"s":"d"},{"x":76,"y":0.4063,"s":"d"},{"x":77,"y":0.4063,"s":"d"},{"x":78,"y":0.4063,"s":"d"},{"x":79,"y":0.4063,"s":"d"},{"x":80,"y":0.4063,"s":"d"},{"x":81,"y":0.4063,"s":"d"},{"x":82,"y":0.4063,"s":"d"},{"x":83,"y":0.4063,"s":"d"},{"x":84,"y":0.4063,"s":"d"},{"x":85,"y":0.4063,"s":"d"},{"x":86,"y":0.4063,"s":"d"},{"x":87,"y":0.4063,"s":"d"},{"x":88,"y":0.4063,"s":"d"},
{"x":89,"y":0.4219,"s":"d"},{"x":90,"y":0.4219,"s":"d"},{"x":91,"y":0.4219,"s":"d"},{"x":92,"y":0.4219,"s":"d"},{"x":93,"y":0.4219,"s":"d"},{"x":94,"y":0.4219,"s":"d"},{"x":95,"y":0.4219,"s":"d"},{"x":96,"y":0.4219,"s":"d"},{"x":97,"y":0.4219,"s":"d"},{"x":98,"y":0.4219,"s":"d"},{"x":99,"y":0.4219,"s":"d"},{"x":100,"y":0.4219,"s":"d"},{"x":101,"y":0.4219,"s":"d"},{"x":102,"y":0.4219,"s":"d"},{"x":103,"y":0.4219,"s":"d"},{"x":104,"y":0.4219,"s":"d"},{"x":105,"y":0.4219,"s":"d"},{"x":106,"y":0.4219,"s":"d"},{"x":107,"y":0.4219,"s":"d"},{"x":108,"y":0.4219,"s":"d"},{"x":109,"y":0.4219,"s":"d"},{"x":110,"y":0.4219,"s":"d"},
{"x":111,"y":0.3906,"s":"d"},{"x":112,"y":0.3906,"s":"d"},{"x":113,"y":0.3906,"s":"d"},{"x":114,"y":0.3906,"s":"d"},{"x":115,"y":0.3906,"s":"d"},{"x":116,"y":0.3906,"s":"d"},{"x":117,"y":0.3906,"s":"d"},{"x":118,"y":0.3906,"s":"d"},
{"x":119,"y":0.4063,"s":"d"},{"x":120,"y":0.4063,"s":"d"},{"x":121,"y":0.4063,"s":"d"},{"x":122,"y":0.4063,"s":"d"},{"x":123,"y":0.4063,"s":"d"},{"x":124,"y":0.4063,"s":"d"},{"x":125,"y":0.4063,"s":"d"},{"x":126,"y":0.4063,"s":"d"},{"x":127,"y":0.4063,"s":"d"},{"x":128,"y":0.4063,"s":"d"},{"x":129,"y":0.4063,"s":"d"},{"x":130,"y":0.4063,"s":"d"},{"x":131,"y":0.4063,"s":"d"},{"x":132,"y":0.4063,"s":"d"},{"x":133,"y":0.4063,"s":"d"},{"x":134,"y":0.4063,"s":"d"},{"x":135,"y":0.4063,"s":"d"},{"x":136,"y":0.4063,"s":"d"},{"x":137,"y":0.4063,"s":"d"},{"x":138,"y":0.4063,"s":"d"},{"x":139,"y":0.4063,"s":"d"},{"x":140,"y":0.4063,"s":"d"},{"x":141,"y":0.4063,"s":"d"},{"x":142,"y":0.4063,"s":"d"},{"x":143,"y":0.4063,"s":"d"},{"x":144,"y":0.4063,"s":"d"},{"x":145,"y":0.4063,"s":"d"},{"x":146,"y":0.4063,"s":"d"},{"x":147,"y":0.4063,"s":"d"},{"x":148,"y":0.4063,"s":"d"},{"x":149,"y":0.4063,"s":"d"},{"x":150,"y":0.4063,"s":"d"},{"x":151,"y":0.4063,"s":"d"},{"x":152,"y":0.4063,"s":"d"},{"x":153,"y":0.4063,"s":"d"},{"x":154,"y":0.4063,"s":"d"},{"x":155,"y":0.4063,"s":"d"},{"x":156,"y":0.4063,"s":"d"},{"x":157,"y":0.4063,"s":"d"},{"x":158,"y":0.4063,"s":"d"},{"x":159,"y":0.4063,"s":"d"},{"x":160,"y":0.4063,"s":"d"},{"x":161,"y":0.4063,"s":"d"},{"x":162,"y":0.4063,"s":"d"},{"x":163,"y":0.4063,"s":"d"},{"x":164,"y":0.4063,"s":"d"},
{"x":165,"y":0.4375,"s":"d"},{"x":166,"y":0.4375,"s":"d"},{"x":167,"y":0.4375,"s":"d"},{"x":168,"y":0.4375,"s":"d"},{"x":169,"y":0.4375,"s":"d"},{"x":170,"y":0.4375,"s":"d"},{"x":171,"y":0.4375,"s":"d"},{"x":172,"y":0.4375,"s":"d"},{"x":173,"y":0.4375,"s":"d"},{"x":174,"y":0.4375,"s":"d"},{"x":175,"y":0.4375,"s":"d"},{"x":176,"y":0.4375,"s":"d"},{"x":177,"y":0.4375,"s":"d"},{"x":178,"y":0.4375,"s":"d"},{"x":179,"y":0.4375,"s":"d"},{"x":180,"y":0.4375,"s":"d"},{"x":181,"y":0.4375,"s":"d"},{"x":182,"y":0.4375,"s":"d"},{"x":183,"y":0.4375,"s":"d"},
{"x":184,"y":0.4531,"s":"d"},{"x":185,"y":0.4531,"s":"d"},{"x":186,"y":0.4531,"s":"d"},{"x":187,"y":0.4531,"s":"d"},{"x":188,"y":0.4531,"s":"d"},{"x":189,"y":0.4531,"s":"d"},{"x":190,"y":0.4531,"s":"d"},{"x":191,"y":0.4531,"s":"d"},{"x":192,"y":0.4531,"s":"d"},{"x":193,"y":0.4531,"s":"d"},{"x":194,"y":0.4531,"s":"d"},{"x":195,"y":0.4531,"s":"d"},{"x":196,"y":0.4531,"s":"d"},{"x":197,"y":0.4531,"s":"d"},{"x":198,"y":0.4531,"s":"d"},{"x":199,"y":0.4531,"s":"d"},{"x":200,"y":0.4531,"s":"d"},{"x":201,"y":0.4531,"s":"d"},{"x":202,"y":0.4531,"s":"d"},{"x":203,"y":0.4531,"s":"d"},{"x":204,"y":0.4531,"s":"d"},{"x":205,"y":0.4531,"s":"d"},{"x":206,"y":0.4531,"s":"d"},{"x":207,"y":0.4531,"s":"d"},{"x":208,"y":0.4531,"s":"d"},
{"x":209,"y":0.4375,"s":"d"},{"x":210,"y":0.4375,"s":"d"},{"x":211,"y":0.4375,"s":"d"},{"x":212,"y":0.4375,"s":"d"},{"x":213,"y":0.4375,"s":"d"},{"x":214,"y":0.4375,"s":"d"},{"x":215,"y":0.4375,"s":"d"},{"x":216,"y":0.4375,"s":"d"},{"x":217,"y":0.4375,"s":"d"},{"x":218,"y":0.4375,"s":"d"},{"x":219,"y":0.4375,"s":"d"},{"x":220,"y":0.4375,"s":"d"},{"x":221,"y":0.4375,"s":"d"},{"x":222,"y":0.4375,"s":"d"},{"x":223,"y":0.4375,"s":"d"},{"x":224,"y":0.4375,"s":"d"},{"x":225,"y":0.4375,"s":"d"},{"x":226,"y":0.4375,"s":"d"},{"x":227,"y":0.4375,"s":"d"},{"x":228,"y":0.4375,"s":"d"},{"x":229,"y":0.4375,"s":"d"},{"x":230,"y":0.4375,"s":"d"},{"x":231,"y":0.4375,"s":"d"},{"x":232,"y":0.4375,"s":"d"},{"x":233,"y":0.4375,"s":"d"},{"x":234,"y":0.4375,"s":"d"},{"x":235,"y":0.4375,"s":"d"},{"x":236,"y":0.4375,"s":"d"},
{"x":237,"y":0.3672,"s":"d"},{"x":238,"y":0.3789,"s":"d"},{"x":239,"y":0.3906,"s":"d"},{"x":240,"y":0.3984,"s":"d"},{"x":241,"y":0.4063,"s":"d"},{"x":242,"y":0.4102,"s":"d"},{"x":243,"y":0.3906,"s":"d"},{"x":244,"y":0.3828,"s":"d"},{"x":245,"y":0.375,"s":"d"},{"x":246,"y":0.3867,"s":"d"},{"x":247,"y":0.3828,"s":"d"},{"x":248,"y":0.3906,"s":"d"},{"x":249,"y":0.3945,"s":"d"},{"x":250,"y":0.3984,"s":"d"},{"x":251,"y":0.4023,"s":"d"},{"x":252,"y":0.4063,"s":"d"},{"x":253,"y":0.4102,"s":"d"},{"x":254,"y":0.4141,"s":"d"},{"x":255,"y":0.418,"s":"d"},{"x":256,"y":0.4219,"s":"d"},{"x":257,"y":0.4219,"s":"d"},{"x":258,"y":0.4258,"s":"d"},
{"x":259,"y":0.4375,"s":"d"},{"x":260,"y":0.4375,"s":"d"},{"x":261,"y":0.4375,"s":"d"},{"x":262,"y":0.4375,"s":"d"},{"x":263,"y":0.4375,"s":"d"},{"x":264,"y":0.4375,"s":"d"},{"x":265,"y":0.4375,"s":"d"},{"x":266,"y":0.4375,"s":"d"},{"x":267,"y":0.4375,"s":"d"},
{"x":5,"y":0.4531,"s":"d"},{"x":6,"y":0.4531,"s":"d"},{"x":8,"y":0.4609,"s":"d"},{"x":9,"y":0.4531,"s":"d"},{"x":10,"y":0.4609,"s":"d"},{"x":11,"y":0.4453,"s":"d"},{"x":12,"y":0.4609,"s":"d"},
{"x":17,"y":0.4453,"s":"d"},{"x":20,"y":0.4453,"s":"d"},{"x":24,"y":0.4492,"s":"d"},{"x":27,"y":0.4453,"s":"d"},{"x":28,"y":0.4531,"s":"d"},{"x":29,"y":0.4492,"s":"d"},{"x":30,"y":0.4609,"s":"d"},{"x":32,"y":0.4609,"s":"d"},{"x":34,"y":0.4609,"s":"d"},{"x":38,"y":0.4609,"s":"d"},
{"x":40,"y":0.4609,"s":"d"},{"x":42,"y":0.4297,"s":"d"},{"x":44,"y":0.4375,"s":"d"},{"x":45,"y":0.4219,"s":"d"},{"x":46,"y":0.4297,"s":"d"},{"x":47,"y":0.4141,"s":"d"},{"x":48,"y":0.4219,"s":"d"},{"x":49,"y":0.4063,"s":"d"},{"x":50,"y":0.4141,"s":"d"},{"x":51,"y":0.4063,"s":"d"},{"x":52,"y":0.4023,"s":"d"},{"x":53,"y":0.3984,"s":"d"},{"x":54,"y":0.4023,"s":"d"},{"x":55,"y":0.3984,"s":"d"},
{"x":56,"y":0.375,"s":"d"},{"x":57,"y":0.375,"s":"d"},{"x":58,"y":0.375,"s":"d"},{"x":59,"y":0.375,"s":"d"},{"x":60,"y":0.375,"s":"d"},{"x":61,"y":0.375,"s":"d"},{"x":62,"y":0.375,"s":"d"},{"x":63,"y":0.375,"s":"d"},{"x":64,"y":0.375,"s":"d"},{"x":65,"y":0.375,"s":"d"},
{"x":62,"y":0.3984,"s":"d"},{"x":63,"y":0.3828,"s":"d"},{"x":64,"y":0.4063,"s":"d"},{"x":65,"y":0.3828,"s":"d"},{"x":66,"y":0.3984,"s":"d"},{"x":68,"y":0.4063,"s":"d"},{"x":70,"y":0.3984,"s":"d"},
{"x":72,"y":0.375,"s":"d"},{"x":74,"y":0.375,"s":"d"},{"x":74,"y":0.3906,"s":"d"},{"x":75,"y":0.3906,"s":"d"},{"x":83,"y":0.4219,"s":"d"},
{"x":86,"y":0.4141,"s":"d"},{"x":87,"y":0.4219,"s":"d"},{"x":88,"y":0.4297,"s":"d"},{"x":89,"y":0.4375,"s":"d"},{"x":90,"y":0.4297,"s":"d"},{"x":91,"y":0.4375,"s":"d"},{"x":92,"y":0.4297,"s":"d"},{"x":93,"y":0.4141,"s":"d"},{"x":94,"y":0.4141,"s":"d"},{"x":95,"y":0.4297,"s":"d"},{"x":96,"y":0.4336,"s":"d"},{"x":97,"y":0.4141,"s":"d"},{"x":98,"y":0.4297,"s":"d"},{"x":99,"y":0.4141,"s":"d"},{"x":100,"y":0.4258,"s":"d"},{"x":101,"y":0.4141,"s":"d"},{"x":102,"y":0.4297,"s":"d"},{"x":104,"y":0.418,"s":"d"},
{"x":89,"y":0.4063,"s":"d"},{"x":90,"y":0.4063,"s":"d"},{"x":91,"y":0.4063,"s":"d"},{"x":92,"y":0.4063,"s":"d"},{"x":93,"y":0.4063,"s":"d"},{"x":94,"y":0.4063,"s":"d"},{"x":95,"y":0.4063,"s":"d"},{"x":96,"y":0.4063,"s":"d"},{"x":97,"y":0.4063,"s":"d"},{"x":98,"y":0.4063,"s":"d"},
{"x":100,"y":0.4063,"s":"d"},{"x":101,"y":0.4063,"s":"d"},{"x":102,"y":0.4063,"s":"d"},{"x":103,"y":0.4063,"s":"d"},{"x":104,"y":0.4063,"s":"d"},{"x":105,"y":0.4063,"s":"d"},{"x":107,"y":0.4063,"s":"d"},{"x":108,"y":0.4063,"s":"d"},{"x":109,"y":0.4063,"s":"d"},{"x":110,"y":0.4063,"s":"d"},{"x":111,"y":0.4063,"s":"d"},{"x":112,"y":0.4063,"s":"d"},
{"x":103,"y":0.4375,"s":"d"},{"x":105,"y":0.4375,"s":"d"},{"x":107,"y":0.4375,"s":"d"},
{"x":112,"y":0.375,"s":"d"},{"x":114,"y":0.375,"s":"d"},{"x":116,"y":0.375,"s":"d"},
{"x":119,"y":0.3906,"s":"d"},{"x":120,"y":0.3906,"s":"d"},{"x":121,"y":0.3906,"s":"d"},{"x":122,"y":0.3906,"s":"d"},{"x":123,"y":0.3906,"s":"d"},{"x":124,"y":0.3906,"s":"d"},{"x":125,"y":0.3906,"s":"d"},
{"x":128,"y":0.4219,"s":"d"},{"x":129,"y":0.4219,"s":"d"},{"x":130,"y":0.4219,"s":"d"},{"x":131,"y":0.4219,"s":"d"},{"x":132,"y":0.4219,"s":"d"},{"x":133,"y":0.4219,"s":"d"},{"x":134,"y":0.4219,"s":"d"},{"x":135,"y":0.4219,"s":"d"},{"x":136,"y":0.4219,"s":"d"},{"x":137,"y":0.4219,"s":"d"},{"x":138,"y":0.4219,"s":"d"},{"x":139,"y":0.4219,"s":"d"},{"x":140,"y":0.4219,"s":"d"},{"x":141,"y":0.4219,"s":"d"},{"x":142,"y":0.4219,"s":"d"},{"x":143,"y":0.4219,"s":"d"},{"x":144,"y":0.4219,"s":"d"},{"x":145,"y":0.4219,"s":"d"},{"x":146,"y":0.4219,"s":"d"},{"x":147,"y":0.4219,"s":"d"},{"x":148,"y":0.4219,"s":"d"},{"x":149,"y":0.4219,"s":"d"},{"x":150,"y":0.4219,"s":"d"},
{"x":157,"y":0.4219,"s":"d"},{"x":158,"y":0.4219,"s":"d"},{"x":159,"y":0.4219,"s":"d"},{"x":160,"y":0.4219,"s":"d"},{"x":161,"y":0.4219,"s":"d"},{"x":162,"y":0.4219,"s":"d"},{"x":163,"y":0.4219,"s":"d"},{"x":164,"y":0.4219,"s":"d"},{"x":165,"y":0.4219,"s":"d"},{"x":166,"y":0.4219,"s":"d"},{"x":167,"y":0.4219,"s":"d"},{"x":168,"y":0.4219,"s":"d"},{"x":169,"y":0.4219,"s":"d"},{"x":170,"y":0.4219,"s":"d"},{"x":171,"y":0.4219,"s":"d"},{"x":172,"y":0.4219,"s":"d"},
{"x":158,"y":0.4141,"s":"d"},{"x":160,"y":0.418,"s":"d"},{"x":162,"y":0.4258,"s":"d"},{"x":164,"y":0.4297,"s":"d"},{"x":166,"y":0.418,"s":"d"},{"x":168,"y":0.4258,"s":"d"},{"x":170,"y":0.4297,"s":"d"},
{"x":170,"y":0.4453,"s":"d"},{"x":172,"y":0.4531,"s":"d"},{"x":174,"y":0.4492,"s":"d"},{"x":176,"y":0.4453,"s":"d"},{"x":178,"y":0.4609,"s":"d"},{"x":180,"y":0.4492,"s":"d"},{"x":182,"y":0.4531,"s":"d"},{"x":184,"y":0.4414,"s":"d"},
{"x":185,"y":0.4297,"s":"d"},{"x":186,"y":0.4375,"s":"d"},{"x":187,"y":0.4219,"s":"d"},{"x":188,"y":0.4336,"s":"d"},{"x":189,"y":0.4453,"s":"d"},{"x":190,"y":0.4258,"s":"d"},{"x":191,"y":0.4375,"s":"d"},{"x":192,"y":0.4297,"s":"d"},{"x":193,"y":0.4453,"s":"d"},{"x":194,"y":0.4219,"s":"d"},{"x":195,"y":0.4336,"s":"d"},{"x":196,"y":0.4414,"s":"d"},{"x":197,"y":0.4297,"s":"d"},{"x":198,"y":0.4375,"s":"d"},{"x":199,"y":0.4453,"s":"d"},{"x":200,"y":0.4336,"s":"d"},{"x":201,"y":0.4258,"s":"d"},{"x":202,"y":0.4414,"s":"d"},{"x":203,"y":0.4375,"s":"d"},{"x":204,"y":0.4492,"s":"d"},{"x":205,"y":0.4531,"s":"d"},{"x":206,"y":0.457,"s":"d"},{"x":207,"y":0.4609,"s":"d"},{"x":208,"y":0.4648,"s":"d"},{"x":209,"y":0.457,"s":"d"},{"x":210,"y":0.4609,"s":"d"},{"x":211,"y":0.4688,"s":"d"},{"x":212,"y":0.4648,"s":"d"},{"x":213,"y":0.4609,"s":"d"},{"x":214,"y":0.4688,"s":"d"},{"x":217,"y":0.4688,"s":"d"},{"x":218,"y":0.4688,"s":"d"},
{"x":208,"y":0.4219,"s":"d"},{"x":209,"y":0.4219,"s":"d"},{"x":210,"y":0.4219,"s":"d"},{"x":211,"y":0.4219,"s":"d"},{"x":212,"y":0.4219,"s":"d"},{"x":213,"y":0.4219,"s":"d"},{"x":214,"y":0.4219,"s":"d"},{"x":215,"y":0.4219,"s":"d"},{"x":216,"y":0.4219,"s":"d"},
{"x":226,"y":0.4219,"s":"d"},{"x":227,"y":0.4219,"s":"d"},{"x":228,"y":0.4219,"s":"d"},{"x":229,"y":0.4219,"s":"d"},{"x":230,"y":0.4219,"s":"d"},{"x":231,"y":0.4219,"s":"d"},{"x":232,"y":0.4219,"s":"d"},{"x":233,"y":0.4219,"s":"d"},{"x":234,"y":0.4219,"s":"d"},{"x":235,"y":0.4219,"s":"d"},{"x":236,"y":0.4219,"s":"d"},
{"x":211,"y":0.4531,"s":"d"},{"x":212,"y":0.4531,"s":"d"},{"x":213,"y":0.4531,"s":"d"},{"x":214,"y":0.4531,"s":"d"},{"x":215,"y":0.4531,"s":"d"},{"x":216,"y":0.4531,"s":"d"},{"x":217,"y":0.4531,"s":"d"},{"x":218,"y":0.4531,"s":"d"},{"x":219,"y":0.4531,"s":"d"},
{"x":222,"y":0.4531,"s":"d"},{"x":223,"y":0.4531,"s":"d"},{"x":224,"y":0.4531,"s":"d"},{"x":225,"y":0.4531,"s":"d"},{"x":226,"y":0.4531,"s":"d"},{"x":227,"y":0.4531,"s":"d"},
{"x":236,"y":0.375,"s":"d"},{"x":239,"y":0.3828,"s":"d"},{"x":241,"y":0.3945,"s":"d"},{"x":243,"y":0.3828,"s":"d"},{"x":245,"y":0.3789,"s":"d"},{"x":247,"y":0.3906,"s":"d"},{"x":249,"y":0.4023,"s":"d"},{"x":251,"y":0.3984,"s":"d"},{"x":253,"y":0.4141,"s":"d"},{"x":255,"y":0.4219,"s":"d"},{"x":257,"y":0.4258,"s":"d"},{"x":259,"y":0.4297,"s":"d"},{"x":261,"y":0.4336,"s":"d"},
{"x":263,"y":0.4219,"s":"d"},{"x":264,"y":0.4219,"s":"d"},{"x":265,"y":0.4219,"s":"d"},{"x":266,"y":0.4219,"s":"d"},{"x":267,"y":0.4219,"s":"d"}
],
"bp":[{"x":138}]
},
"layer":[
{"data":{"name":"t"},
"mark":{"type":"point","filled":false,"size":64,"strokeWidth":1.1,"opacity":1},
"encoding":{
"x":{"field":"x","type":"quantitative","scale":{"domain":[0,300],"range":[86,580],"nice":false,"zero":false},
"axis":{"orient":"bottom","offset":-238,"values":[0,50,100,150,200,250,300],"tickSize":-5,"labelPadding":15,"labelFlush":false,"labelOverlap":false,"labelFont":"Liberation Sans","labelFontSize":15,"labelColor":"#333","domainColor":"#555","tickColor":"#555","grid":false,"title":"Relative position on Region A","titleFont":"Lato","titleFontSize":18,"titleFontWeight":"normal","titleColor":"#222","titleX":480,"titleY":39,"titleAlign":"center","titleBaseline":"middle"}},
"y":{"field":"y","type":"quantitative","scale":{"domain":[0,0.5],"range":[433,49],"nice":false},
"axis":{"orient":"left","offset":-86,"values":[0,0.05,0.1,0.15,0.2,0.25,0.3,0.35,0.4,0.45,0.5],"format":"~g","tickSize":-5,"labelPadding":12,"labelFlush":false,"labelOverlap":false,"labelFont":"Liberation Sans","labelFontSize":15,"labelColor":"#333","domainColor":"#555","tickColor":"#555","grid":false,"title":"Normalized edit distance","titleFont":"Lato","titleFontSize":18,"titleFontWeight":"normal","titleColor":"#222","titleAngle":0,"titleX":-62,"titleY":26,"titleAlign":"left","titleBaseline":"middle"}},
"stroke":{"field":"s","type":"nominal","scale":{"domain":["a","b"],"range":["#ff0000","#11dd11"]},
"legend":{"orient":"none","legendX":72,"legendY":509,"direction":"vertical","title":"For a tumor tissue:","titleFont":"Lato","titleFontSize":18,"titleFontWeight":"normal","titleColor":"#222","titlePadding":5,"labelFont":"Lato","labelFontSize":18,"labelColor":"#222","labelLimit":400,"labelExpr":"datum.label == 'a' ? ': concerning region A' : ': concerning region B'","symbolSize":196,"symbolStrokeWidth":2.5,"symbolOffset":15,"labelOffset":1,"rowPadding":0,"padding":0}},
"shape":{"field":"s","type":"nominal","scale":{"domain":["a","b"],"range":["M-1,0L1,0M0,-1L0,1","M-0.8,-0.8L0.8,0.8M-0.8,0.8L0.8,-0.8"]},
"legend":{"orient":"none","legendX":72,"legendY":509,"direction":"vertical","title":"For a tumor tissue:","titleFont":"Lato","titleFontSize":18,"titleFontWeight":"normal","titleColor":"#222","titlePadding":5,"labelFont":"Lato","labelFontSize":18,"labelColor":"#222","labelLimit":400,"labelExpr":"datum.label == 'a' ? ': concerning region A' : ': concerning region B'","symbolSize":196,"symbolStrokeWidth":2.5,"symbolOffset":15,"labelOffset":1,"rowPadding":0,"padding":0}}
}},
{"data":{"name":"n"},
"mark":{"type":"point","filled":false,"size":64,"strokeWidth":1.1,"opacity":0.85},
"encoding":{
"x":{"field":"x","type":"quantitative","scale":{"domain":[0,300],"range":[86,580],"nice":false,"zero":false},
"axis":{"orient":"top","offset":-49,"values":[0,50,100,150,200,250,300],"labels":false,"tickSize":-5,"domainColor":"#555","tickColor":"#555","grid":false,"title":null}},
"y":{"field":"y","type":"quantitative","scale":{"domain":[0,0.5],"range":[433,49],"nice":false},
"axis":{"orient":"right","offset":-36,"values":[0,0.05,0.1,0.15,0.2,0.25,0.3,0.35,0.4,0.45,0.5],"labels":false,"tickSize":-5,"domainColor":"#555","tickColor":"#555","grid":false,"title":null}},
"stroke":{"field":"s","type":"nominal","scale":{"domain":["c","d"],"range":["#ff00ff","#ffa21a"]},
"legend":{"orient":"none","legendX":351,"legendY":509,"direction":"vertical","title":"For a normal tissue:","titleFont":"Lato","titleFontSize":18,"titleFontWeight":"normal","titleColor":"#222","titlePadding":5,"labelFont":"Lato","labelFontSize":18,"labelColor":"#222","labelLimit":400,"labelExpr":"datum.label == 'c' ? ': concerning region A' : ': concerning region B'","symbolSize":196,"symbolStrokeWidth":2.5,"symbolOffset":16,"labelOffset":3,"rowPadding":0,"padding":0,"symbolOpacity":1}},
"shape":{"field":"s","type":"nominal","scale":{"domain":["c","d"],"range":["M-1,0L1,0M0,-1L0,1","M-0.8,-0.8L0.8,0.8M-0.8,0.8L0.8,-0.8"]},
"legend":{"orient":"none","legendX":351,"legendY":509,"direction":"vertical","title":"For a normal tissue:","titleFont":"Lato","titleFontSize":18,"titleFontWeight":"normal","titleColor":"#222","titlePadding":5,"labelFont":"Lato","labelFontSize":18,"labelColor":"#222","labelLimit":400,"labelExpr":"datum.label == 'c' ? ': concerning region A' : ': concerning region B'","symbolSize":196,"symbolStrokeWidth":2.5,"symbolOffset":16,"labelOffset":3,"rowPadding":0,"padding":0,"symbolOpacity":1}}
}},
{"data":{"name":"bp"},
"mark":{"type":"point","filled":true,"size":441,"shape":"M-0.28,1L0.28,1L0.28,-0.05L0.62,-0.05L0,-1L-0.62,-0.05L-0.28,-0.05Z","color":"#1a1aff","opacity":1,"strokeWidth":0},
"encoding":{
"x":{"field":"x","type":"quantitative","scale":{"domain":[0,300],"range":[86,580],"nice":false,"zero":false},
"axis":{"orient":"bottom","offset":-238,"values":[138],"domain":false,"ticks":false,"labelExpr":"'Breakpoint'","labelFont":"Lato","labelFontSize":17,"labelColor":"#1a1aff","labelPadding":39,"labelOffset":-20,"labelFlush":false,"grid":false,"title":null}},
"y":{"datum":-0.0267,"type":"quantitative","axis":null}
}}
],
"resolve":{"scale":{"stroke":"independent","shape":"independent"},"axis":{"x":"independent","y":"independent"}}
}
